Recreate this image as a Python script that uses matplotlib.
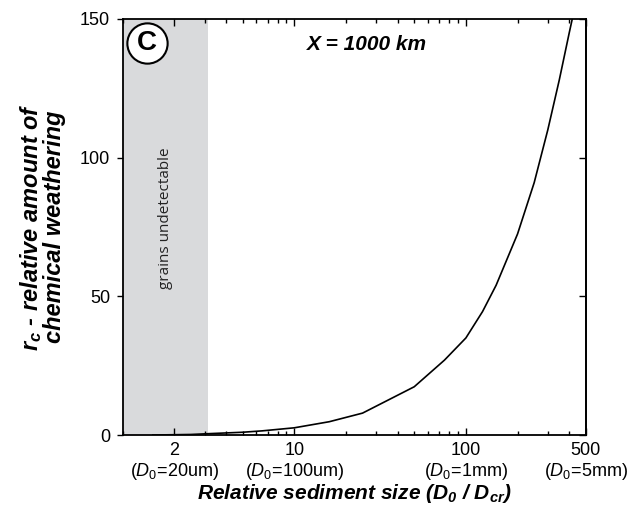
import matplotlib.pyplot as plt
from matplotlib.ticker import FixedLocator, LogLocator, NullFormatter

plt.rcParams['font.family'] = ['Liberation Sans', 'DejaVu Sans']
plt.rcParams['mathtext.fontset'] = 'custom'
plt.rcParams['mathtext.rm'] = 'Liberation Sans'
plt.rcParams['mathtext.it'] = 'Liberation Sans:italic'
plt.rcParams['mathtext.bf'] = 'Liberation Sans:bold'

# curve
size_rel = [1.5, 2.5, 3.2, 5, 6.5, 10, 16, 25, 50, 75, 100, 125, 150, 200, 250, 300, 350, 400, 420]
weathering = [0, 0.2, 0.5, 1.0, 1.5, 2.6, 4.8, 7.9, 17.4, 27, 35, 44.5, 54, 72.5, 91, 110, 128, 145, 151]

xticks = [2, 10, 100, 500]
xticklabels = ['2\n($\\mathit{D}_{0}$=20um)', '10\n($\\mathit{D}_{0}$=100um)',
               '100\n($\\mathit{D}_{0}$=1mm)', '500\n($\\mathit{D}_{0}$=5mm)']
yticks = [0, 50, 100, 150]
undetectable_max = 3.15

fig = plt.figure(figsize=(6.32, 5.13), dpi=100)
ax = fig.add_axes([0.194, 0.152, 0.733, 0.811])

ax.axvspan(1, undetectable_max, color='#d9dadc', lw=0, zorder=0)
ax.plot(size_rel, weathering, color='black', lw=1.2, zorder=2)

ax.set_xscale('log')
ax.set_xlim(1, 500)
ax.set_ylim(0, 150)

ax.xaxis.set_major_locator(FixedLocator(xticks))
ax.set_xticklabels(xticklabels, fontsize=13, linespacing=1.15)
ax.xaxis.set_minor_locator(LogLocator(base=10, subs=range(1, 10)))
ax.xaxis.set_minor_formatter(NullFormatter())
ax.set_yticks(yticks)
ax.set_yticklabels([str(v) for v in yticks], fontsize=13)

ax.tick_params(axis='x', which='both', direction='in', top=True, width=1)
ax.tick_params(axis='x', which='major', length=5, pad=5)
ax.tick_params(axis='x', which='minor', length=3)
ax.tick_params(axis='y', direction='out', length=4, width=1, pad=5)
right = ax.secondary_yaxis('right')
right.set_yticks(yticks)
right.tick_params(direction='in', length=5, width=1, labelright=False)
for s in list(ax.spines.values()) + [right.spines['right']]:
    s.set_linewidth(1.3)

ax.set_xlabel('Relative sediment size ($\\mathregular{D_0}$ / $\\mathregular{D_{cr}}$)',
              fontsize=15, fontweight='bold', style='italic', labelpad=0)
ax.set_ylabel('$\\mathregular{r_c}$ - relative amount of\nchemical weathering',
              fontsize=17, fontweight='bold', style='italic', labelpad=10, linespacing=0.92)

ax.text(0.398, 0.938, 'X = 1000 km', transform=ax.transAxes, fontsize=15,
        fontweight='bold', style='italic', va='center', ha='left')
ax.text(0.092, 0.52, 'grains undetectable', transform=ax.transAxes, rotation=90,
        fontsize=11, family='Open Sans', color='#222222', ha='center', va='center')

ax.plot([0.053], [0.942], marker='o', markersize=29, markerfacecolor='white',
        markeredgecolor='black', markeredgewidth=1.5, transform=ax.transAxes,
        clip_on=False, zorder=3)
ax.text(0.053, 0.942, 'C', transform=ax.transAxes, fontsize=20, fontweight='bold',
        ha='center', va='center', zorder=4)

fig.savefig('out.png', dpi=100)
